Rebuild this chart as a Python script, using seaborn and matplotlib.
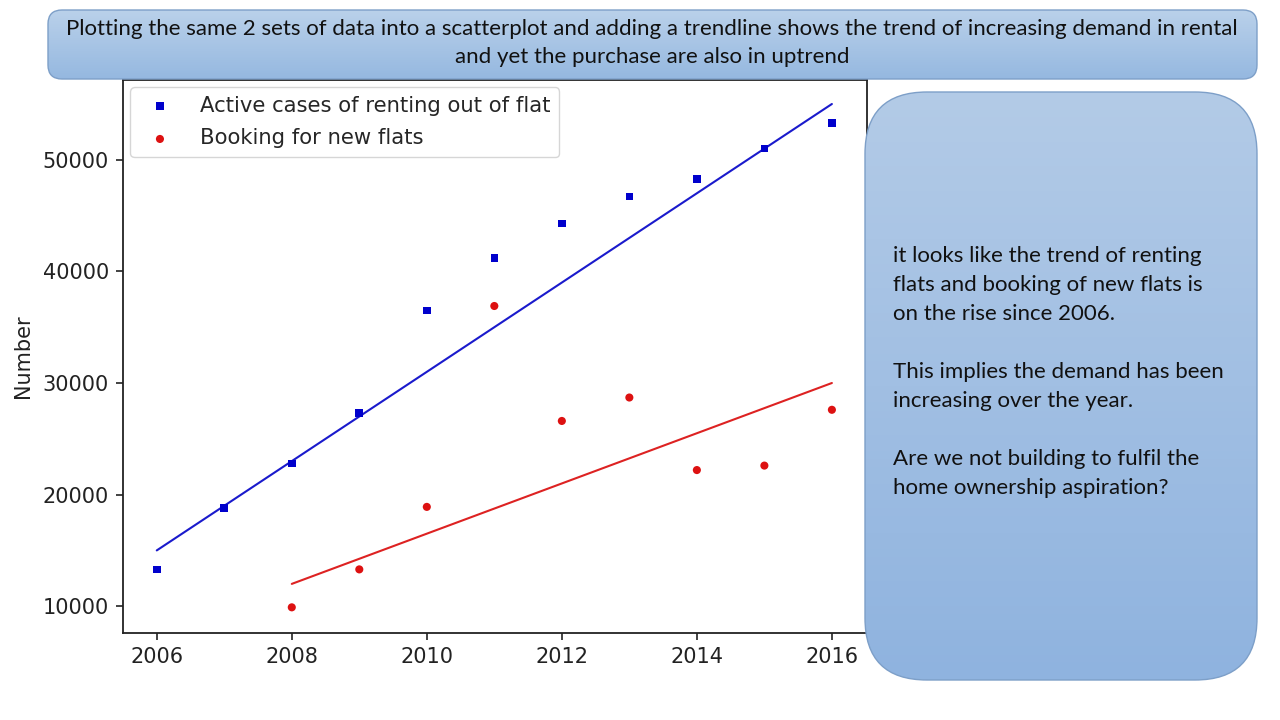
import numpy as np
import pandas as pd
import matplotlib
matplotlib.use("Agg")
import matplotlib.pyplot as plt
import seaborn as sns
from matplotlib.patches import FancyBboxPatch
from matplotlib.colors import LinearSegmentedColormap

# ---------------- data ----------------
rent_years = [2006, 2007, 2008, 2009, 2010, 2011, 2012, 2013, 2014, 2015, 2016]
rent_values = [13300, 18800, 22800, 27300, 36500, 41200, 44300, 46700, 48300, 51000, 53300]
book_years = [2008, 2009, 2010, 2011, 2012, 2013, 2014, 2015, 2016]
book_values = [9900, 13300, 18900, 36900, 26600, 28700, 22200, 22600, 27600]
rent_trend_years = [2006, 2016]
rent_trend_values = [15000, 55000]
book_trend_years = [2008, 2016]
book_trend_values = [12000, 30000]
x_ticks = [2006, 2008, 2010, 2012, 2014, 2016]
y_ticks = [10000, 20000, 30000, 40000, 50000]
label_rent = "Active cases of renting out of flat"
label_book = "Booking for new flats"
title_text = ("Plotting the same 2 sets of data into a scatterplot and adding a trendline shows the trend of increasing demand in rental\n"
              "and yet the purchase are also in uptrend")
note_text = ("it looks like the trend of renting\nflats and booking of new flats is\non the rise since 2006.\n\n"
             "This implies the demand has been\nincreasing over the year.\n\n"
             "Are we not building to fulfil the\nhome ownership aspiration?")

sns.set_style("ticks")
plt.rcParams['font.family'] = ['DejaVu Sans']

fig = plt.figure(figsize=(12.8, 7.2), dpi=100)
fig.patch.set_facecolor("white")

ax = fig.add_axes([123/1280, 1-633/720, (867-123)/1280, (633-80)/720])
rent_df = pd.DataFrame({"year": rent_years, "value": rent_values})
book_df = pd.DataFrame({"year": book_years, "value": book_values})
sns.scatterplot(data=rent_df, x="year", y="value", marker="s", color="#0000cc", s=30,
                edgecolor="none", label=label_rent, ax=ax, zorder=3)
sns.scatterplot(data=book_df, x="year", y="value", marker="o", color="#dd1111", s=34,
                edgecolor="none", label=label_book, ax=ax, zorder=3)
sns.lineplot(x=rent_trend_years, y=rent_trend_values, color="#1a1acc", lw=1.5, ax=ax, legend=False)
sns.lineplot(x=book_trend_years, y=book_trend_values, color="#dd2222", lw=1.5, ax=ax, legend=False)

ax.set_xlim(2005.5, 2016.52)
ax.set_ylim(7600, 57150)
ax.set_xticks(x_ticks)
ax.set_xticklabels([str(t) for t in x_ticks])
ax.set_yticks(y_ticks)
ax.set_yticklabels([str(t) for t in y_ticks])
ax.tick_params(labelsize=15, length=5, width=1.2, colors="#222222", pad=5)
ax.set_xlabel("")
ax.set_ylabel("Number", fontsize=15, labelpad=7, color="#222222")
for sp in ax.spines.values():
    sp.set_color("#222222")
    sp.set_linewidth(1.3)
leg = ax.legend(loc="upper left", fontsize=15.2, frameon=True, markerscale=1.0,
                handletextpad=0.9, borderaxespad=0.35, labelspacing=0.6)
leg.get_frame().set_edgecolor("#cccccc")

# ---------------- overlay with slide shapes ----------------
ov = fig.add_axes([0, 0, 1, 1], zorder=5)
ov.set_xlim(0, 1280)
ov.set_ylim(720, 0)
ov.axis("off")
ov.patch.set_alpha(0)


def grad_box(x, y, w, h, r, c_top, c_bot, edge):
    cmap = LinearSegmentedColormap.from_list("g", [c_top, c_bot])
    patch = FancyBboxPatch((x, y), w, h, boxstyle=f"round,pad=0,rounding_size={r}",
                           facecolor="none", edgecolor="none")
    ov.add_patch(patch)
    grad = np.linspace(0, 1, 256).reshape(-1, 1)
    im = ov.imshow(grad, cmap=cmap, extent=[x, x + w, y + h, y], aspect="auto",
                   origin="upper", zorder=1)
    im.set_clip_path(patch)
    edgep = FancyBboxPatch((x, y), w, h, boxstyle=f"round,pad=0,rounding_size={r}",
                           facecolor="none", edgecolor=edge, lw=1.0, zorder=2)
    ov.add_patch(edgep)


grad_box(48, 10, 1209, 69, 14, "#bad1ea", "#95b8e0", "#7d9fc8")
grad_box(865, 92, 392, 588, 62, "#b3cbe7", "#8fb3df", "#7d9fc8")
ov.set_xlim(0, 1280)
ov.set_ylim(720, 0)

ov.text(652, 43, title_text, ha="center", va="center", fontsize=16,
        family="Lato", color="#111111", linespacing=1.55, zorder=3)
ov.text(893, 246, note_text, ha="left", va="top", fontsize=16,
        family="Lato", color="#111111", linespacing=1.56, zorder=3)

fig.savefig("out.png", dpi=100, facecolor="white")
